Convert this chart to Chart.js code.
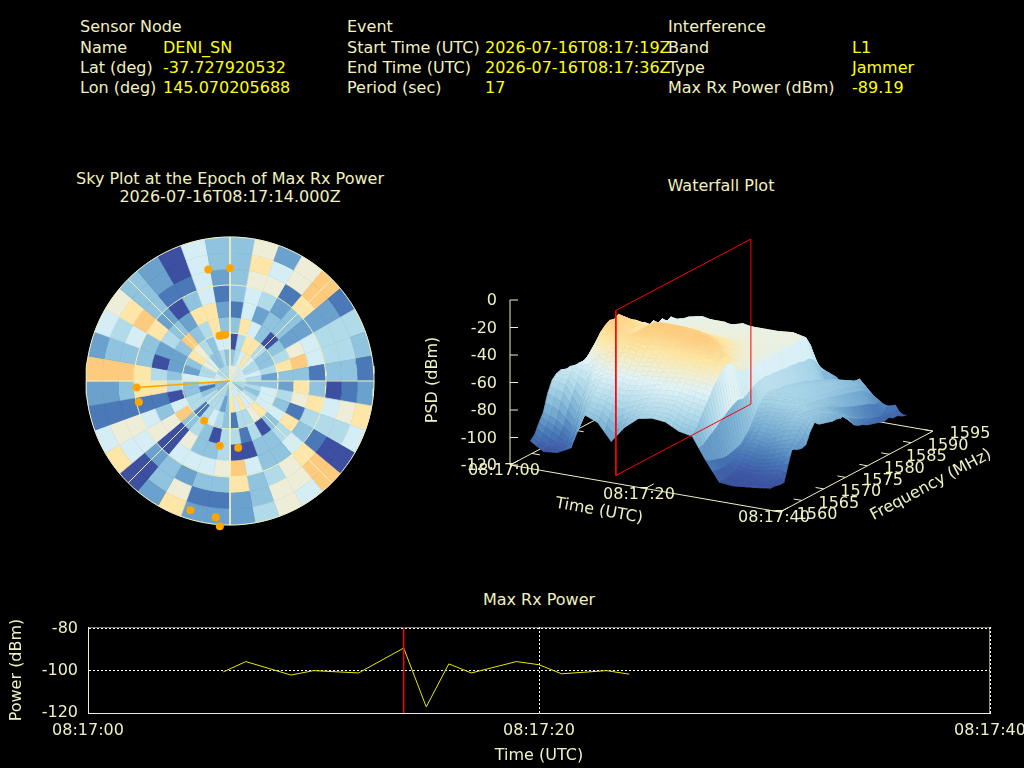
<!DOCTYPE html>
<html>
<head>
<meta charset="utf-8">
<title>Interference report</title>
<script src="https://cdn.jsdelivr.net/npm/chart.js@4"></script>
<style>
  html, body { margin: 0; background: #000; width: 1024px; height: 768px; overflow: hidden; }
  body { font: 16px "DejaVu Sans", sans-serif; color: #f0f0c0; position: relative; }
  canvas { position: absolute; }
  .t { position: absolute; white-space: nowrap; line-height: 20px; }
  .v { color: #ffff00; }
  .c { transform: translateX(-50%); text-align: center; }
</style>
</head>
<body>
<div class="t" style="left:80px;top:17px">Sensor Node</div>
<div class="t" style="left:80px;top:38px">Name</div>
<div class="t v" style="left:163px;top:38px">DENI_SN</div>
<div class="t" style="left:80px;top:58px">Lat (deg)</div>
<div class="t v" style="left:163px;top:58px">-37.727920532</div>
<div class="t" style="left:80px;top:78px">Lon (deg)</div>
<div class="t v" style="left:163px;top:78px">145.070205688</div>
<div class="t" style="left:347px;top:17px">Event</div>
<div class="t" style="left:347px;top:38px">Start Time (UTC)</div>
<div class="t v" style="left:485px;top:38px">2026-07-16T08:17:19Z</div>
<div class="t" style="left:347px;top:58px">End Time (UTC)</div>
<div class="t v" style="left:485px;top:58px">2026-07-16T08:17:36Z</div>
<div class="t" style="left:347px;top:78px">Period (sec)</div>
<div class="t v" style="left:485px;top:78px">17</div>
<div class="t" style="left:668px;top:17px">Interference</div>
<div class="t" style="left:668px;top:38px">Band</div>
<div class="t v" style="left:852px;top:38px">L1</div>
<div class="t" style="left:668px;top:58px">Type</div>
<div class="t v" style="left:852px;top:58px">Jammer</div>
<div class="t" style="left:668px;top:78px">Max Rx Power (dBm)</div>
<div class="t v" style="left:852px;top:78px">-89.19</div>
<div class="t c" style="left:230px;top:170px;line-height:18px">Sky Plot at the Epoch of Max Rx Power<br>2026-07-16T08:17:14.000Z</div>
<div class="t c" style="left:721px;top:176px">Waterfall Plot</div>
<div class="t c" style="left:539px;top:590px">Max Rx Power</div>

<canvas id="sky" width="300" height="300" style="left:80px;top:231px"></canvas>
<canvas id="waterfall" width="600" height="320" style="left:424px;top:225px"></canvas>
<canvas id="power" width="1024" height="158" style="left:0;top:610px"></canvas>

<script>
// max rx power, only the vertices that can be seen on the trace
const powerTimes = [6, 7, 9, 10, 12, 14, 15, 16, 17, 19, 20, 21, 23, 24];
const powerValues = [-100.5, -95.6, -102, -99.9, -101, -89.19, -117.1, -96.7, -101, -95.6, -97.1, -101.4, -99.9, -101.6];
const powerEpoch = 14;

// sky cells, 10 deg of azimuth from north, one list per 10 deg of elevation (ring0 = zenith)
const ring0 = [5,6,6,5,5,5,5,5,5,4,4,4,3,4,5,5,5,5,3,3,4,4,4,3,3,3,3,6,5,5,4,4,4,4,4,4];
const ring1 = [3,4,5,7,5,4,4,5,4,3,4,3,4,5,5,7,5,7,3,2,4,4,4,4,3,1,4,5,4,4,6,5,3,3,4,3];
const ring2 = [0,4,7,7,4,3,3,4,2,3,5,5,5,7,6,4,4,1,3,4,5,4,1,4,4,3,3,5,2,3,7,6,4,3,5,5];
const ring3 = [3,7,5,3,0,3,4,7,3,2,4,3,5,3,0,4,1,4,4,0,3,4,3,8,5,0,4,3,2,2,3,8,3,4,7,3];
const ring4 = [1,5,2,3,3,2,6,8,3,7,6,1,7,4,3,3,0,0,4,3,3,6,0,6,3,1,7,4,0,2,4,3,2,7,7,2];
const ring5 = [3,5,4,2,3,2,5,5,1,3,7,4,3,5,3,3,5,8,6,5,5,5,0,6,5,1,7,7,3,3,7,2,0,3,5,1];
const ring6 = [3,6,6,1,7,2,4,4,3,0,5,4,1,7,6,4,3,7,3,3,2,3,2,5,6,1,3,8,3,5,8,3,1,1,5,2];
const ring7 = [3,7,5,6,8,2,4,4,3,1,6,4,0,8,6,6,3,2,1,1,6,3,0,5,6,1,2,8,3,4,7,3,2,0,5,3];
const ring8 = [3,6,2,6,8,1,4,3,1,2,7,5,0,8,5,6,4,2,2,2,7,2,0,7,5,1,2,8,2,5,6,3,2,0,5,3];
const skyRings = [ring0, ring1, ring2, ring3, ring4, ring5, ring6, ring7, ring8];

// satellites
const satAz = [349, 0, 347, 350, 354, 266, 257, 213, 189, 173, 197, 186, 184];
const satEl = [19, 19.5, 61, 61, 61, 31.5, 31.5, 60.4, 49, 48, 5.5, 4.4, -1];
const jammerAz = 266;
const jammerEl = 31.5;

// waterfall, psd in dBm, one list per time, 1560..1592 MHz
const psdFreqs = [1560,1561,1562,1563,1564,1565,1566,1567,1568,1569,1570,1571,1572,1573,1574,1575,1576,1577,1578,1579,1580,1581,1582,1583,1584,1585,1586,1587,1588,1589,1590,1591,1592];
const psdTimes = [3,5,7,9,11,13,15,17,19,21,23,25,27,29,31,33,35,37,38];
const psd03 = [-100,-97,-90,-84,-72,-64,-61,-60,-62,-61,-63,-62,-64,-63,-62,-62,-63,-64,-62,-63,-64,-66,-65,-66,-68,-70,-72,-75,-80,-86,-94,-102,-105];
const psd05 = [-106,-104,-95,-88,-76,-66,-60,-57,-56,-57,-55,-56,-57,-55,-56,-57,-56,-55,-57,-58,-59,-60,-61,-62,-64,-66,-68,-72,-78,-86,-96,-103,-106];
const psd07 = [-105,-103,-101,-96,-88,-80,-70,-58,-48,-40,-34,-31,-29,-30,-28,-31,-34,-37,-39,-43,-44,-48,-46,-50,-48,-52,-50,-55,-60,-70,-84,-100,-105];
const psd09 = [-100,-92,-82,-72,-64,-56,-50,-44,-38,-34,-31,-30,-32,-30,-31,-34,-37,-38,-41,-43,-46,-45,-49,-47,-51,-48,-52,-50,-59,-68,-86,-100,-106];
const psd11 = [-74,-70,-64,-59,-54,-49,-45,-40,-36,-33,-33,-34,-36,-38,-36,-36,-38,-40,-42,-44,-47,-46,-49,-47,-50,-47,-51,-48,-58,-70,-88,-101,-105];
const psd13 = [-78,-72,-66,-60,-54,-49,-44,-39,-35,-31,-28,-27,-27,-27,-29,-31,-34,-36,-39,-42,-44,-46,-45,-48,-46,-49,-47,-50,-58,-70,-88,-100,-106];
const psd15 = [-90,-80,-70,-62,-56,-51,-46,-41,-37,-33,-30,-28,-27,-27,-29,-31,-34,-37,-39,-42,-44,-47,-45,-48,-46,-50,-47,-51,-57,-69,-86,-100,-105];
const psd17 = [-78,-72,-66,-60,-55,-49,-44,-40,-35,-31,-28,-26,-26,-27,-29,-32,-34,-37,-40,-42,-45,-46,-48,-46,-49,-47,-50,-48,-56,-68,-88,-101,-106];
const psd19 = [-70,-66,-62,-57,-52,-48,-44,-39,-36,-32,-29,-28,-29,-28,-30,-33,-36,-38,-40,-43,-45,-47,-45,-48,-46,-49,-47,-50,-56,-68,-86,-100,-105];
const psd21 = [-68,-65,-60,-56,-51,-47,-42,-37,-33,-29,-27,-26,-28,-30,-33,-35,-37,-39,-41,-43,-45,-47,-46,-48,-46,-49,-47,-50,-57,-66,-84,-99,-106];
const psd23 = [-69,-65,-60,-56,-51,-46,-42,-38,-34,-30,-28,-28,-31,-34,-37,-39,-41,-43,-44,-45,-46,-47,-46,-48,-47,-49,-47,-50,-56,-68,-85,-100,-105];
const psd25 = [-74,-70,-64,-58,-52,-47,-42,-37,-32,-30,-31,-35,-39,-42,-44,-45,-46,-47,-47,-48,-47,-48,-47,-49,-47,-48,-46,-49,-56,-70,-86,-100,-106];
const psd27 = [-76,-72,-66,-60,-54,-48,-44,-40,-37,-38,-44,-47,-48,-49,-49,-48,-49,-48,-49,-48,-49,-47,-48,-47,-48,-46,-48,-55,-66,-74,-78,-102,-106];
const psd29 = [-92,-94,-95,-96,-97,-97,-96,-95,-94,-90,-86,-80,-74,-69,-67,-66,-67,-68,-68,-69,-70,-71,-72,-73,-75,-76,-78,-80,-84,-80,-82,-104,-106];
const psd31 = [-106,-106,-106,-105,-104,-100,-96,-92,-88,-84,-80,-76,-72,-68,-66,-67,-67,-68,-68,-69,-69,-70,-71,-72,-73,-74,-75,-77,-80,-86,-96,-103,-106];
const psd33 = [-107,-106,-106,-106,-105,-102,-98,-94,-90,-85,-80,-76,-72,-68,-67,-68,-68,-69,-69,-70,-70,-71,-71,-72,-73,-74,-75,-76,-78,-78,-95,-103,-106];
const psd35 = [-106,-107,-106,-105,-104,-100,-96,-90,-86,-80,-75,-71,-69,-68,-69,-70,-70,-71,-72,-73,-74,-75,-76,-77,-78,-79,-80,-82,-85,-88,-97,-104,-106];
const psd37 = [-105,-106,-106,-104,-102,-97,-92,-88,-83,-78,-75,-73,-73,-74,-75,-76,-78,-80,-82,-85,-88,-90,-92,-94,-95,-97,-98,-99,-100,-95,-96,-97,-106];
const psd38 = [-104,-106,-106,-107,-107,-95,-84,-88,-89,-88,-80,-75,-78,-79,-80,-81,-81,-82,-81,-87,-92,-94,-95,-97,-98,-99,-100,-101,-100,-102,-102,-104,-105];
const psdRows = [psd03,psd05,psd07,psd09,psd11,psd13,psd15,psd17,psd19,psd21,psd23,psd25,psd27,psd29,psd31,psd33,psd35,psd37,psd38];

const zTicks = [0, -20, -40, -60, -80, -100, -120];
const freqTicks = [1560, 1565, 1570, 1575, 1580, 1585, 1590, 1595];
const timeTicks = [0, 20, 40];

const cream = '#f0f0c0';
const font16 = '16px "DejaVu Sans"';
const skyColors = ['#3c4fa1', '#4b78b7', '#6ba2cd', '#8fc3de', '#b2dbea', '#d5edf4', '#eeeed8', '#fee6a8', '#fdcb7e'];
const psdStops = [-108, -96, -84, -68, -52, -44, -36, -27];
const psdColors = ['#3c4fa1', '#4a7ab8', '#74aad1', '#a9d6e8', '#e0f3f8', '#f2efd0', '#fee6a3', '#fdcc7e'];

function hms(s) {
  return '08:17:' + String(s).padStart(2, '0');
}

function hex(c) {
  return [1, 3, 5].map(i => parseInt(c.substr(i, 2), 16));
}

function psdColor(z) {
  let i = 0;
  while (i < psdStops.length - 2 && z > psdStops[i + 1]) i++;
  let k = (z - psdStops[i]) / (psdStops[i + 1] - psdStops[i]);
  k = Math.max(0, Math.min(1, k));
  const a = hex(psdColors[i]), b = hex(psdColors[i + 1]);
  return 'rgb(' + a.map((v, j) => Math.round(v + (b[j] - v) * k)).join(',') + ')';
}

function polygon(points, color) {
  return {
    data: points, showLine: true, fill: 'shape', backgroundColor: color,
    borderColor: color, borderWidth: 0.7, pointRadius: 0, tension: 0
  };
}

function line(points, color, width) {
  return { data: points, showLine: true, borderColor: color, borderWidth: width || 1, pointRadius: 0, tension: 0, fill: false };
}

const baseOptions = {
  animation: false,
  responsive: false,
  events: [],
  parsing: false,
  normalized: true,
  plugins: { legend: { display: false }, tooltip: { enabled: false }, title: { display: false } }
};

// ---- sky plot ----
function skyXY(az, el) {
  const a = az * Math.PI / 180;
  return { x: (90 - el) * Math.sin(a), y: (90 - el) * Math.cos(a) };
}

const skySets = [];
skyRings.forEach((ring, k) => {
  const elHigh = 90 - k * 10, elLow = 80 - k * 10;
  ring.forEach((v, s) => {
    const pts = [];
    for (let q = 0; q <= 4; q++) pts.push(skyXY(s * 10 + q * 2.5, elLow));
    for (let q = 4; q >= 0; q--) pts.push(skyXY(s * 10 + q * 2.5, elHigh));
    pts.push(pts[0]);
    skySets.push(polygon(pts, skyColors[v]));
  });
});
[60, 30, 0].forEach(el => {
  const pts = [];
  for (let a = 0; a <= 360; a += 3) pts.push(skyXY(a, el));
  skySets.push(line(pts, cream, 1));
});
[0, 45, 90, 135].forEach(a => {
  skySets.push(line([skyXY(a, 0), skyXY(a + 180, 0)], cream, 1));
});
skySets.push(line([skyXY(jammerAz, jammerEl), skyXY(0, 90)], '#ffa500', 1.5));
skySets.push({
  data: satAz.map((a, i) => skyXY(a, satEl[i])),
  showLine: false, pointRadius: 4, pointBackgroundColor: '#ffa500', pointBorderWidth: 0, clip: false
});

// chart area is inset by the point size, so the range is a bit under 94
new Chart(document.getElementById('sky'), {
  type: 'scatter',
  data: { datasets: skySets.reverse() },
  options: Object.assign({}, baseOptions, {
    layout: { padding: 0 },
    scales: {
      x: { type: 'linear', display: false, bounds: 'data', min: -91.25, max: 91.25 },
      y: { type: 'linear', display: false, bounds: 'data', min: -91.25, max: 91.25 }
    }
  })
});

// ---- waterfall ----
function project(t, f, z) {
  return {
    x: 510 + 6.75 * t + 4.37 * (f - 1560),
    y: 465 + 1.175 * t - 2.31 * (f - 1560) - 1.375 * (z + 120)
  };
}

const fallSets = [];
// floor
fallSets.push(line([project(0, 1560, -120), project(40, 1560, -120), project(40, 1595, -120), project(0, 1595, -120), project(0, 1560, -120)], cream));
fallSets.push(line([project(0, 1560, -120), project(0, 1560, 0)], cream));
zTicks.forEach(z => {
  const a = project(0, 1560, z);
  fallSets.push(line([a, { x: a.x + 8, y: a.y }], cream));
});
freqTicks.forEach(f => {
  fallSets.push(line([project(40, f, -120), project(38.8, f, -120)], cream));
  fallSets.push(line([project(0, f, -120), project(1.2, f, -120)], cream));
});
timeTicks.forEach(t => {
  fallSets.push(line([project(t, 1560, -120), project(t, 1562, -120)], cream));
});
// surface, far rows first, each quad cut in 2x2 for the colour
const cuts = 2;
for (let r = 0; r < psdTimes.length - 1; r++) {
  for (let c = psdFreqs.length - 2; c >= 0; c--) {
    const z00 = psdRows[r][c], z01 = psdRows[r][c + 1], z10 = psdRows[r + 1][c], z11 = psdRows[r + 1][c + 1];
    const at = (u, v) => {
      const z = (z00 * (1 - v) + z01 * v) * (1 - u) + (z10 * (1 - v) + z11 * v) * u;
      return { z, p: project(psdTimes[r] + (psdTimes[r + 1] - psdTimes[r]) * u, psdFreqs[c] + v, z) };
    };
    for (let i = 0; i < cuts; i++) {
      for (let j = cuts - 1; j >= 0; j--) {
        const a = at(i / cuts, j / cuts), b = at(i / cuts, (j + 1) / cuts);
        const d = at((i + 1) / cuts, (j + 1) / cuts), e = at((i + 1) / cuts, j / cuts);
        fallSets.push(polygon([a.p, b.p, d.p, e.p, a.p], psdColor((a.z + b.z + d.z + e.z) / 4)));
      }
    }
  }
}
// epoch plane
const planeLow = 1562.6, planeHigh = 1593.5;
fallSets.push(line([project(powerEpoch, planeLow, -120), project(powerEpoch, planeHigh, -120), project(powerEpoch, planeHigh, 0), project(powerEpoch, planeLow, 0), project(powerEpoch, planeLow, -120)], '#ff0000'));

const fallLabels = {
  id: 'fallLabels',
  afterDatasetsDraw(chart) {
    const ctx = chart.ctx, xs = chart.scales.x, ys = chart.scales.y;
    const put = (p, dx, dy) => [xs.getPixelForValue(p.x) + dx, ys.getPixelForValue(p.y) + dy];
    ctx.save();
    ctx.font = font16;
    ctx.fillStyle = cream;
    ctx.textBaseline = 'middle';
    ctx.textAlign = 'right';
    zTicks.forEach(z => {
      const q = put(project(0, 1560, z), -13, 1);
      ctx.fillText(String(z), q[0], q[1]);
    });
    ctx.textAlign = 'center';
    timeTicks.forEach(t => {
      const q = put(project(t, 1560, -120), -6, 6);
      ctx.fillText(hms(t), q[0], q[1]);
    });
    freqTicks.forEach(f => {
      const q = put(project(40, f, -120), 37, 3);
      ctx.fillText(String(f), q[0], q[1]);
    });
    const turned = (text, x, y, deg) => {
      ctx.save();
      ctx.translate(xs.getPixelForValue(x), ys.getPixelForValue(y));
      ctx.rotate(deg * Math.PI / 180);
      ctx.fillText(text, 0, 0);
      ctx.restore();
    };
    turned('PSD (dBm)', 433, 380, -90);
    turned('Time (UTC)', 599, 511, 10);
    turned('Frequency (MHz)', 931, 485, -28);
    ctx.restore();
  }
};

new Chart(document.getElementById('waterfall'), {
  type: 'scatter',
  data: { datasets: fallSets.reverse() },
  plugins: [fallLabels],
  options: Object.assign({}, baseOptions, {
    layout: { padding: 0 },
    scales: {
      x: { type: 'linear', display: false, min: 424, max: 1024 },
      y: { type: 'linear', display: false, min: 225, max: 545, reverse: true }
    }
  })
});

// ---- max rx power ----
const powerTop = -79.2;
new Chart(document.getElementById('power'), {
  type: 'scatter',
  data: {
    datasets: [
      line([{ x: powerEpoch, y: -120 }, { x: powerEpoch, y: powerTop }], '#ff0000', 1.5),
      line(powerTimes.map((t, i) => ({ x: t, y: powerValues[i] })), '#e6e600', 1),
      line([{ x: 0, y: -120 }, { x: 0, y: powerTop }, { x: 40, y: powerTop }, { x: 40, y: -120 }, { x: 0, y: -120 }], cream, 1.2)
    ]
  },
  options: Object.assign({}, baseOptions, {
    layout: { padding: { top: 17, right: 34, left: 0, bottom: 0 } },
    scales: {
      x: {
        type: 'linear', bounds: 'data', min: 0, max: 40,
        afterFit(s) { s.height = 55; s.paddingLeft = 0; s.paddingRight = 0; },
        grid: { color: '#ffffff', drawTicks: false, lineWidth: 1 },
        border: { dash: [2, 2], color: cream },
        ticks: { stepSize: 20, maxRotation: 0, autoSkip: false, padding: 8, color: cream, font: { family: 'DejaVu Sans', size: 16 }, callback: v => hms(v) },
        title: { display: true, text: 'Time (UTC)', color: cream, font: { family: 'DejaVu Sans', size: 16 }, padding: { top: 0, bottom: 3 } }
      },
      y: {
        type: 'linear', bounds: 'data', min: -120, max: powerTop,
        afterFit(s) { s.width = 88; s.paddingTop = 0; s.paddingBottom = 0; },
        grid: { color: '#ffffff', drawTicks: false, lineWidth: 1 },
        border: { dash: [2, 2], color: cream },
        ticks: { stepSize: 20, includeBounds: false, padding: 10, color: cream, font: { family: 'DejaVu Sans', size: 16 } },
        title: { display: true, text: 'Power (dBm)', color: cream, font: { family: 'DejaVu Sans', size: 16 }, padding: { top: 7, bottom: 0 } }
      }
    }
  })
});
</script>
</body>
</html>
